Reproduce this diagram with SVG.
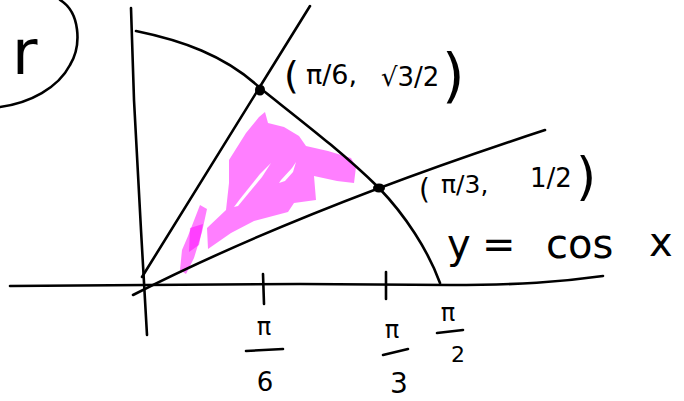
<svg xmlns="http://www.w3.org/2000/svg" width="684" height="401" viewBox="0 0 684 401">
<style>
.ink{fill:none;stroke:#000;stroke-width:2.6;stroke-linecap:round;stroke-linejoin:round}
.hl{fill:#ff00ff;opacity:0.5}
.t{font-family:"DejaVu Sans","Liberation Sans",sans-serif;fill:#000}
</style>
<rect width="684" height="401" fill="#fff"/>
<g id="highlight">
<path class="hl" d="M265,112 L268,123 L284,127 L299,136 L306,146 L328,151 L351,158 L356,167 L354,183 L337,181 L314,176 L316,200 L294,203 L288,212 L254,221 L231,233 L208,249 L207,228 L226,210 L229,183 L229,160 L246,133 L259,117 Z"/>
<path d="M271,163 L260,174 L240,199 L234,207 L238,206 L262,177 Z" fill="#fff"/>
<path d="M296,162 L292,168 L281,180 L279,183 L285,181 L293,172 Z" fill="#fff"/>
<path class="hl" d="M200,205 L207,209 L202,232 L194,258 L186,274 L180,270 L182,250 L188,236 Z"/>
<path class="hl" d="M190,228 L203,224 L199,245 L189,252 Z"/>
</g>
<g id="axes">
<path class="ink" d="M131,8 L134,100 L141,230 L147,335"/>
<path class="ink" d="M10,286 L145,285 L300,284 L450,285 C520,285 560,282 603,276"/>
<path class="ink" d="M263,274 L264,304"/>
<path class="ink" d="M386,272 L386,299"/>
</g>
<g id="curves">
<path class="ink" d="M136,31 C180,40 225,55 260,88 C300,120 340,150 379,188 C405,215 428,250 440,283"/>
<path class="ink" d="M142,277 L310,6"/>
<path class="ink" d="M133,295 Q300,210 545,130"/>
<path class="ink" d="M60,0 C80,12 82,45 70,65 C58,88 30,103 0,107"/>
</g>
<g id="points">
<ellipse cx="260" cy="90" rx="5" ry="5.5"/>
<ellipse cx="379" cy="188" rx="6" ry="4.5"/>
</g>
<g id="label-r">
<text class="t" x="12" y="74" font-size="62">r</text>
</g>
<g id="label-p1">
<text class="t" font-size="27"><tspan x="284" y="88" font-size="38">(</tspan><tspan x="306" y="84">π/6,</tspan><tspan x="381" y="86" font-size="26">√3/2</tspan><tspan x="442" y="96" font-size="58">)</tspan></text>
</g>
<g id="label-p2">
<text class="t" font-size="25"><tspan x="419" y="199" font-size="28">(</tspan><tspan x="441" y="193">π/3,</tspan><tspan x="530" y="187" font-size="26">1/2</tspan><tspan x="576" y="194" font-size="52">)</tspan></text>
</g>
<g id="label-cos">
<text class="t" font-size="40"><tspan x="447" y="258">y </tspan><tspan x="482" y="258">= </tspan><tspan x="546" y="258">cos </tspan><tspan x="649" y="256">x</tspan></text>
</g>
<g id="ticks-labels">
<text class="t" x="264" y="335" font-size="24" text-anchor="middle">π</text>
<path class="ink" d="M246,351 L283,349"/>
<text class="t" x="265" y="391" font-size="26" text-anchor="middle">6</text>
<text class="t" x="392" y="338" font-size="24" text-anchor="middle">π</text>
<path class="ink" d="M383,355 L408,349"/>
<text class="t" x="399" y="393" font-size="28" text-anchor="middle">3</text>
<text class="t" x="448" y="321" font-size="24" text-anchor="middle">π</text>
<path class="ink" d="M437,333 L463,330"/>
<text class="t" x="458" y="362" font-size="22" text-anchor="middle">2</text>
</g>
</svg>
